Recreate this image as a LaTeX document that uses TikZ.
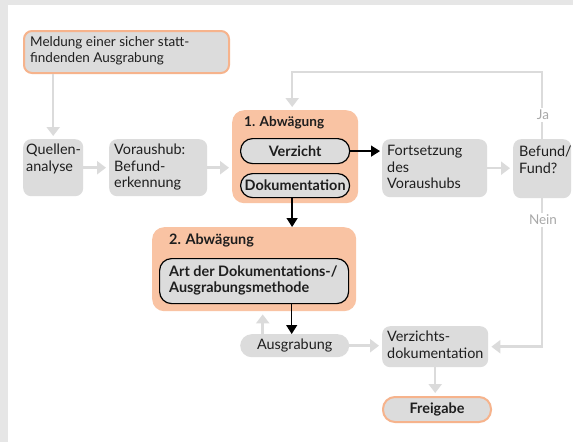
\documentclass[tikz,border=0pt]{standalone}
\usepackage{fontspec}
\setmainfont{Lato}
\usetikzlibrary{arrows.meta}
\definecolor{framegray}{HTML}{E6E6E6}
\definecolor{boxgray}{HTML}{DCDCDC}
\definecolor{arrgray}{HTML}{DBDBDB}
\definecolor{orfill}{HTML}{F9C3A3}
\definecolor{ordraw}{HTML}{F6B38C}
\definecolor{textcol}{HTML}{1E1E1E}
\definecolor{lblgray}{HTML}{A8A8A8}
\begin{document}
\begin{tikzpicture}[x=1pt,y=-1pt,
  gbox/.style={fill=boxgray, rounded corners=8pt, inner sep=0pt, anchor=north west},
  obox/.style={fill=orfill, rounded corners=12pt, inner sep=0pt, anchor=north west},
  pill/.style={draw=black, line width=1.2pt, fill=boxgray, rounded corners=12pt, inner sep=0pt, anchor=north west, font=\fontsize{14.4}{16}\selectfont\bfseries, text=textcol},
  txt/.style={inner sep=0pt, anchor=north west, align=left, font=\fontsize{14.4}{16.5}\selectfont, text=textcol},
  btxt/.style={txt, font=\fontsize{14.4}{15.5}\selectfont\bfseries},
  lbl/.style={inner sep=2pt, fill=white, font=\fontsize{13.5}{15}\selectfont, text=lblgray},
  garr/.style={draw=arrgray, line width=2.5pt, -{Triangle[length=9pt,width=13pt]}, shorten >=3pt},
  barr/.style={draw=black, line width=1.3pt, -{Triangle[length=9pt,width=11pt]}},
]
\useasboundingbox (0,0) rectangle (573,442);
\fill[framegray] (0,0) rectangle (573,442);
\fill[white] (8,5) rectangle (573,442);

% nodes
\node[gbox, draw=ordraw, line width=2pt, minimum width=205pt, minimum height=42pt] (meld) at (23,30) {};
\node[txt, font=\fontsize{13.5}{16.5}\selectfont] (meldt) at ([shift={(7,6)}]meld.north west) {Meldung einer sicher statt-\\findenden Ausgrabung};

\node[gbox, minimum width=60pt, minimum height=57pt] (q) at (23,139) {};
\node[txt] (qt) at ([shift={(3,5)}]q.north west) {Quellen-\\analyse};

\node[gbox, minimum width=98pt, minimum height=57pt] (v) at (109,139) {};
\node[txt] (vt) at ([shift={(5,5)}]v.north west) {Voraushub:\\Befund-\\erkennung};

\node[obox, minimum width=126pt, minimum height=93pt] (a1) at (232,110) {};
\node[btxt, font=\fontsize{13.6}{15}\selectfont\bfseries] (a1t) at ([shift={(12,6.5)}]a1.north west) {1. Abwägung};
\node[pill, minimum width=109pt, minimum height=25pt] (verz) at (240,138) {Verzicht};
\node[pill, minimum width=109pt, minimum height=24pt] (dok) at (240,173) {Dokumentation};

\node[gbox, minimum width=105pt, minimum height=58pt] (fort) at (382,139) {};
\node[txt] (fortt) at ([shift={(5,6)}]fort.north west) {Fortsetzung\\des\\Voraushubs};

\node[gbox, minimum width=58pt, minimum height=59pt] (bef) at (513,139) {};
\node[txt] (beft) at ([shift={(6,7)}]bef.north west) {Befund/\\Fund?};

\node[obox, minimum width=204pt, minimum height=84pt] (a2) at (152,227) {};
\node[btxt] (a2t) at ([shift={(17,7)}]a2.north west) {2. Abwägung};
\node[pill, minimum width=189pt, minimum height=45pt] (art) at (159,258) {};
\node[btxt] (artt) at ([shift={(10,8)}]art.north west) {Art der Dokumentations-/\\Ausgrabungsmethode};

\node[gbox, rounded corners=11.5pt, minimum width=109pt, minimum height=23pt, font=\fontsize{14.4}{16}\selectfont, text=textcol, inner sep=0pt] (ausg) at (240,334) {Ausgrabung};

\node[gbox, minimum width=106pt, minimum height=41pt] (vd) at (382,326) {};
\node[txt] (vdt) at ([shift={(5,5)}]vd.north west) {Verzichts-\\dokumentation};

\node[gbox, draw=ordraw, line width=2pt, rounded corners=12pt, minimum width=108pt, minimum height=25pt, font=\fontsize{14.4}{16}\selectfont\bfseries, text=textcol] (frei) at (382,396) {Freigabe};

% connectors
\draw[garr] (q.north |- meld.south) -- (q.north);
\draw[garr] (q.east) -- (v.west);
\draw[garr] (v.east) -- (v.east -| a1.west);
\draw[barr, shorten >=2pt] (verz.east) -- (verz.east -| fort.west);
\draw[garr] (fort.east) -- (fort.east -| bef.west);
\draw[garr] (bef.north) -- (bef.north |- 0,72) -| ([xshift=-3pt]a1.north);
\node[lbl] (ja) at (543,115) {Ja};
\draw[garr] (bef.south) -- (bef.south |- vd.east) -- (vd.east);
\node[lbl] (nein) at (543,220) {Nein};
\draw[barr] ([xshift=-3pt]dok.south) -- ([xshift=-3pt]dok.south |- a2.north);
\draw[barr] ([xshift=-3pt]art.south -| ausg.north) -- ([xshift=-3pt]ausg.north);
\draw[garr] ([xshift=-32pt]ausg.north) -- ([xshift=-32pt]ausg.north |- a2.south);
\draw[garr] (ausg.east) -- (ausg.east -| vd.west);
\draw[garr] (vd.south) -- (vd.south |- frei.north);
\end{tikzpicture}
\end{document}
